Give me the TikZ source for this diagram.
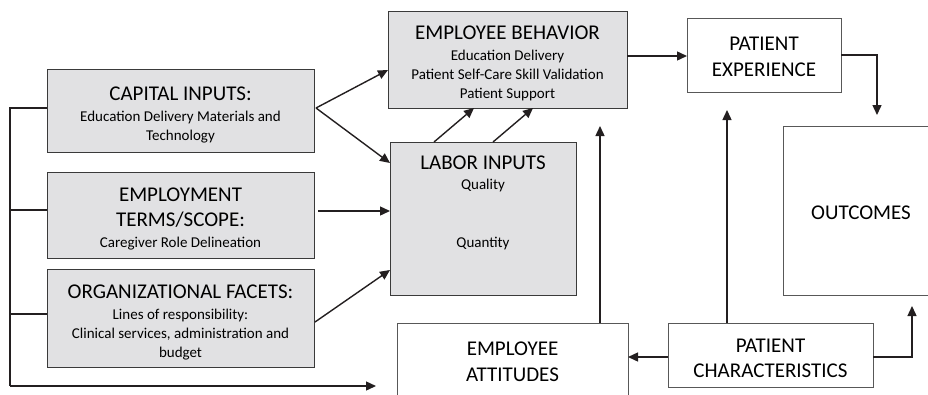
\documentclass[tikz,border=0pt]{standalone}
\usepackage{fontspec}
\setmainfont{Carlito}
\usetikzlibrary{arrows.meta}
\definecolor{ink}{HTML}{231F20}
\definecolor{boxfill}{HTML}{E1E1E3}
\definecolor{edge}{HTML}{3A3A3A}
\newcommand{\hdfont}{\fontsize{21}{25.5}\selectfont}
\newcommand{\smfont}{\fontsize{15}{19}\selectfont}
\tikzset{
  every node/.style={inner sep=0pt, outer sep=0pt},
  graybox/.style={draw=edge, line width=1pt, fill=boxfill},
  whitebox/.style={draw=edge!85, line width=1pt, fill=white},
  lbl/.style={align=center, font=\smfont},
  hdlbl/.style={align=center, font=\hdfont},
  arr/.style={draw=ink, line width=1.4pt, -{Triangle[length=10pt,width=9pt]}},
  wire/.style={draw=ink, line width=1.4pt}
}
\begin{document}
\begin{tikzpicture}[x=1pt, y=-1pt]
\useasboundingbox (0,0) rectangle (928,394);
\clip (0,0) rectangle (928,394);

% input boxes on the left
\node[graybox, minimum width=267pt, minimum height=83pt] (cap) at (180.5,110.5) {};
\node[lbl] (capTxt) at ([yshift=-4pt]cap.center)
  {{\hdfont CAPITAL INPUTS:}\\[2pt]Education Delivery Materials and\\Technology};
\node[graybox, minimum width=267pt, minimum height=86pt] (empl) at (180.5,215) {};
\node[lbl] (emplTxt) at ([yshift=-4pt]empl.center)
  {{\hdfont EMPLOYMENT}\\[6.5pt]{\hdfont TERMS/SCOPE:}\\[2pt]Caregiver Role Delineation};
\node[graybox, minimum width=267pt, minimum height=98pt] (org) at (180.5,318) {};
\node[lbl] (orgTxt) at ([yshift=-4pt]org.center)
  {{\hdfont ORGANIZATIONAL FACETS:}\\[2pt]Lines of responsibility:\\Clinical services, administration and\\budget};

% middle column
\node[graybox, minimum width=239pt, minimum height=97pt] (behav) at (507.5,59.5) {};
\node[lbl] (behavTxt) at ([yshift=-3.5pt]behav.center)
  {{\hdfont EMPLOYEE BEHAVIOR}\\[2pt]Education Delivery\\Patient Self-Care Skill Validation\\Patient Support};
\node[graybox, minimum width=186pt, minimum height=153pt] (labor) at (483,218.5) {};
\node[lbl, anchor=north] (laborTxt) at ([yshift=-14pt]labor.north)
  {{\hdfont LABOR INPUTS}\\[1pt]Quality\\[39pt]Quantity};
\node[whitebox, minimum width=231pt, minimum height=78pt] (attit) at (512.5,362) {};
\node[hdlbl] (attitTxt) at (attit.center) {EMPLOYEE\\ATTITUDES};

% right column
\node[whitebox, minimum width=154pt, minimum height=74pt] (pexp) at (764,55) {};
\node[hdlbl] (pexpTxt) at ([yshift=-2pt]pexp.center) {PATIENT\\EXPERIENCE};
\node[whitebox, minimum width=156pt, minimum height=169pt] (outc) at (861,210.5) {};
\node[hdlbl] (outcTxt) at ([yshift=-2pt]outc.center) {OUTCOMES};
\node[whitebox, minimum width=205pt, minimum height=64pt] (pchar) at (770.5,355) {};
\node[hdlbl] (pcharTxt) at ([yshift=-3.5pt]pchar.center) {PATIENT\\CHARACTERISTICS};

% free ends of connectors
\coordinate (busTop) at (10,108);
\coordinate (busE) at (10,210);
\coordinate (busO) at (10,314);
\coordinate (busBot) at (10,386);
\coordinate (busEnd) at (376,386);
\coordinate (attUp) at (600,126);
\coordinate (charUp) at (727,110);
\coordinate (outTop) at (877,115);
\coordinate (outBot) at (912,306);

% feedback bus along the left edge
\draw[wire] (cap.west |- busTop) -- (busTop) -- (busBot);
\draw[arr] (busBot) -- (busEnd);
\draw[wire] (busE) -- (empl.west |- busE);
\draw[wire] (busO) -- (org.west |- busO);

% inputs into behaviour and labour
\draw[arr] ([xshift=2pt]cap.east |- busTop) -- (behav.west |- 0,70);
\draw[arr] ([xshift=2pt]cap.east |- busTop) -- (labor.west |- 0,163);
\draw[arr, shorten <=4pt] (empl.east |- 0,211) -- (labor.west |- 0,211);
\draw[arr] ([xshift=1pt]org.east |- 0,322) -- (labor.west |- 0,270);
\draw[arr] (labor.north -| 434,0) -- (behav.south -| 474,0);
\draw[arr] (labor.north -| 493,0) -- (behav.south -| 533,0);

% flows on the right
\draw[arr] (behav.east |- 0,56) -- (pexp.west |- 0,56);
\draw[arr] (pexp.east) -| (outTop);
\draw[arr] (attit.north -| attUp) -- (attUp);
\draw[arr] (pchar.north -| charUp) -- (charUp);
\draw[arr] (pchar.west |- 0,357) -- (attit.east |- 0,357);
\draw[arr] (pchar.east |- 0,357) -| (outBot);
\end{tikzpicture}
\end{document}
